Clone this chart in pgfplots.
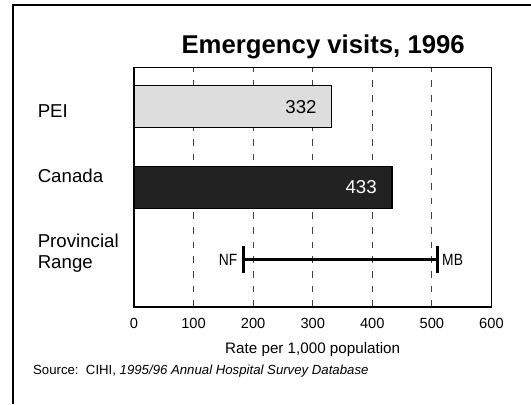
\documentclass[border=0pt]{standalone}
\usepackage{fontspec}
\setmainfont{Liberation Sans}
\usepackage{pgfplots}
\pgfplotsset{compat=1.18}
\definecolor{peigray}{HTML}{DDDDDD}
\definecolor{candark}{HTML}{222222}
\begin{document}
\begin{tikzpicture}[x=0.75pt,y=0.75pt]
\useasboundingbox (0,0) rectangle (531,404);
\draw[line width=1.2pt] (13,0) -- (13,399) -- (531,399);
\begin{axis}[
  at={(100.5pt,72.75pt)}, anchor=south west,
  scale only axis, width=268.1pt, height=179.4pt,
  xmin=0, xmax=600, ymin=0, ymax=239.2,
  xtick={0,100,200,300,400,500,600}, ytick=\empty,
  major tick length=0pt,
  xmajorgrids,
  grid style={black!75, line width=0.7pt, dash pattern=on 5pt off 6pt},
  axis line style={line width=0.8pt},
  ticklabel style={font=\fontsize{11}{13}\selectfont},
  /pgf/number format/assume math mode=true,
  xticklabel style={yshift=-4.6pt},
  clip=false,
]
\addplot[xbar, bar width=31.5pt, fill=peigray, draw=black, line width=0.8pt] coordinates {(332,200.2)};
\addplot[xbar, bar width=31.5pt, fill=candark, draw=black, line width=0.8pt] coordinates {(433,119.5)};
\addplot[black, line width=1.8pt] coordinates {(183.5,47.7) (509,47.7)};
\addplot[black, line width=2.5pt] coordinates {(183.5,34.1) (183.5,61.2)};
\addplot[black, line width=2.5pt] coordinates {(509,34.1) (509,61.2)};
\node[anchor=east, inner sep=0pt, font=\fontsize{14}{16}\selectfont, xshift=-11.25pt] at (axis cs:332,200.2) {332};
\node[anchor=east, inner sep=0pt, font=\fontsize{14}{16}\selectfont, text=white, xshift=-11.25pt] at (axis cs:433,119.5) {433};
\end{axis}
\node[anchor=base, inner sep=0pt, font=\fontsize{19.3}{22}\selectfont\bfseries] at (323.2,350) {Emergency visits, 1996};
\node[anchor=base west, inner sep=0pt, font=\fontsize{14}{16}\selectfont] at (37.5,286.4) {PEI};
\node[anchor=base west, inner sep=0pt, font=\fontsize{14}{16}\selectfont] at (37.5,221.4) {Canada};
\node[anchor=base west, inner sep=0pt, font=\fontsize{14}{16}\selectfont] at (37.5,156.4) {Provincial};
\node[anchor=base west, inner sep=0pt, font=\fontsize{14}{16}\selectfont] at (37.5,135.4) {Range};
\node[anchor=base east, inner sep=0pt, font=\fontsize{12.2}{14}\selectfont, xscale=0.85] at (237.5,139) {NF};
\node[anchor=base west, inner sep=0pt, font=\fontsize{12.2}{14}\selectfont, xscale=0.85] at (442,139) {MB};
\node[anchor=base, inner sep=0pt, font=\fontsize{11.4}{13}\selectfont] at (312.7,50.6) {Rate per 1,000 population};
\node[anchor=base west, inner sep=0pt, font=\fontsize{9.9}{12}\selectfont] at (32.9,29.1) {Source:\ \ CIHI, \textit{1995/96 Annual Hospital Survey Database}};
\end{tikzpicture}
\end{document}
